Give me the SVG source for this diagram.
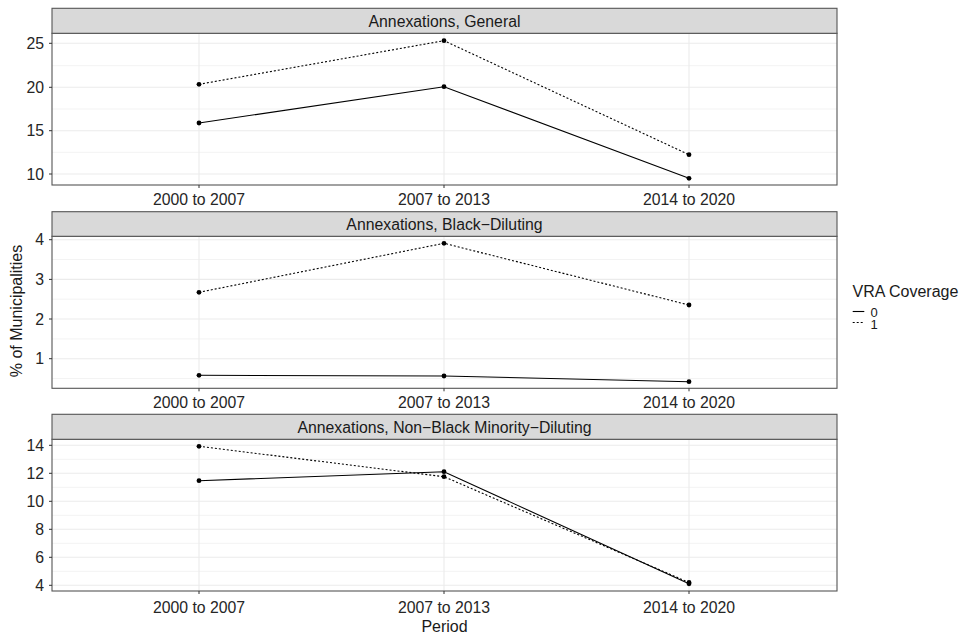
<svg xmlns="http://www.w3.org/2000/svg" width="961" height="634" viewBox="0 0 961 634">
<style>
text{font-family:"Liberation Sans",Arial,sans-serif;}
.bg{fill:#ffffff;}
.strip{fill:#d9d9d9;stroke:#555555;stroke-width:1.1;}
.panel{fill:none;stroke:#555555;stroke-width:1.1;}
.gmaj{stroke:#ebebeb;stroke-width:1.1;fill:none;}
.gmin{stroke:#f2f2f2;stroke-width:0.9;fill:none;}
.tick{stroke:#333333;stroke-width:1;}
.tl{font-size:13px;fill:#1a1a1a;}
.yl{font-size:15.8px;fill:#262626;text-anchor:end;}
.xl{font-size:15.8px;fill:#262626;text-anchor:middle;}
.st{font-size:15.8px;fill:#1a1a1a;text-anchor:middle;}
.title{font-size:16px;fill:#1a1a1a;}
.solid{stroke:#000;stroke-width:1.1;fill:none;}
.dot{stroke:#000;stroke-width:1.1;fill:none;stroke-dasharray:2,2;}
.pt{fill:#000;}
</style>
<rect class="bg" x="0" y="0" width="961" height="634"/>

<g id="panel-general">
  <rect class="bg" x="52" y="33.3" width="785" height="151.7"/>
  <g class="gmin">
    <line x1="52" y1="65.7" x2="837" y2="65.7"/>
    <line x1="52" y1="109" x2="837" y2="109"/>
    <line x1="52" y1="152.3" x2="837" y2="152.3"/>
  </g>
  <g class="gmaj">
    <line x1="52" y1="43.3" x2="837" y2="43.3"/>
    <line x1="52" y1="87.3" x2="837" y2="87.3"/>
    <line x1="52" y1="130.7" x2="837" y2="130.7"/>
    <line x1="52" y1="174" x2="837" y2="174"/>
    <line x1="199" y1="33.3" x2="199" y2="185"/>
    <line x1="444" y1="33.3" x2="444" y2="185"/>
    <line x1="689" y1="33.3" x2="689" y2="185"/>
  </g>
  <rect class="panel" x="52" y="33.3" width="785" height="151.7"/>
  <rect class="strip" x="52" y="8.3" width="785" height="25"/>
  <text class="st" x="444.5" y="26.8">Annexations, General</text>
  <g class="tick">
    <line x1="49" y1="43.3" x2="52" y2="43.3"/>
    <line x1="49" y1="87.3" x2="52" y2="87.3"/>
    <line x1="49" y1="130.7" x2="52" y2="130.7"/>
    <line x1="49" y1="174" x2="52" y2="174"/>
    <line x1="199" y1="185" x2="199" y2="188"/>
    <line x1="444" y1="185" x2="444" y2="188"/>
    <line x1="689" y1="185" x2="689" y2="188"/>
  </g>
  <text class="yl" x="44" y="48.8">25</text>
  <text class="yl" x="44" y="92.8">20</text>
  <text class="yl" x="44" y="136.2">15</text>
  <text class="yl" x="44" y="179.5">10</text>
  <text class="xl" x="199" y="205">2000 to 2007</text>
  <text class="xl" x="444" y="205">2007 to 2013</text>
  <text class="xl" x="689" y="205">2014 to 2020</text>
</g>

<g id="panel-black">
  <rect class="bg" x="52" y="236.3" width="785" height="152"/>
  <g class="gmin">
    <line x1="52" y1="259.5" x2="837" y2="259.5"/>
    <line x1="52" y1="299.2" x2="837" y2="299.2"/>
    <line x1="52" y1="338.9" x2="837" y2="338.9"/>
    <line x1="52" y1="378.5" x2="837" y2="378.5"/>
  </g>
  <g class="gmaj">
    <line x1="52" y1="239.7" x2="837" y2="239.7"/>
    <line x1="52" y1="279.4" x2="837" y2="279.4"/>
    <line x1="52" y1="319" x2="837" y2="319"/>
    <line x1="52" y1="358.7" x2="837" y2="358.7"/>
    <line x1="199" y1="236.3" x2="199" y2="388.3"/>
    <line x1="444" y1="236.3" x2="444" y2="388.3"/>
    <line x1="689" y1="236.3" x2="689" y2="388.3"/>
  </g>
  <rect class="panel" x="52" y="236.3" width="785" height="152"/>
  <rect class="strip" x="52" y="211.7" width="785" height="24.6"/>
  <text class="st" x="444.5" y="229.8">Annexations, Black−Diluting</text>
  <g class="tick">
    <line x1="49" y1="239.7" x2="52" y2="239.7"/>
    <line x1="49" y1="279.4" x2="52" y2="279.4"/>
    <line x1="49" y1="319" x2="52" y2="319"/>
    <line x1="49" y1="358.7" x2="52" y2="358.7"/>
    <line x1="199" y1="388.3" x2="199" y2="391.3"/>
    <line x1="444" y1="388.3" x2="444" y2="391.3"/>
    <line x1="689" y1="388.3" x2="689" y2="391.3"/>
  </g>
  <text class="yl" x="44" y="245.2">4</text>
  <text class="yl" x="44" y="284.9">3</text>
  <text class="yl" x="44" y="324.5">2</text>
  <text class="yl" x="44" y="364.2">1</text>
  <text class="xl" x="199" y="408">2000 to 2007</text>
  <text class="xl" x="444" y="408">2007 to 2013</text>
  <text class="xl" x="689" y="408">2014 to 2020</text>
</g>

<g id="panel-nonblack">
  <rect class="bg" x="52" y="439.3" width="785" height="151.7"/>
  <g class="gmin">
    <line x1="52" y1="459.3" x2="837" y2="459.3"/>
    <line x1="52" y1="487.3" x2="837" y2="487.3"/>
    <line x1="52" y1="515.3" x2="837" y2="515.3"/>
    <line x1="52" y1="543.3" x2="837" y2="543.3"/>
    <line x1="52" y1="571.3" x2="837" y2="571.3"/>
  </g>
  <g class="gmaj">
    <line x1="52" y1="445.3" x2="837" y2="445.3"/>
    <line x1="52" y1="473.3" x2="837" y2="473.3"/>
    <line x1="52" y1="501.3" x2="837" y2="501.3"/>
    <line x1="52" y1="529.3" x2="837" y2="529.3"/>
    <line x1="52" y1="557.3" x2="837" y2="557.3"/>
    <line x1="52" y1="585.3" x2="837" y2="585.3"/>
    <line x1="199" y1="439.3" x2="199" y2="591"/>
    <line x1="444" y1="439.3" x2="444" y2="591"/>
    <line x1="689" y1="439.3" x2="689" y2="591"/>
  </g>
  <rect class="panel" x="52" y="439.3" width="785" height="151.7"/>
  <rect class="strip" x="52" y="414.3" width="785" height="25"/>
  <text class="st" x="444.5" y="432.6">Annexations, Non−Black Minority−Diluting</text>
  <g class="tick">
    <line x1="49" y1="445.3" x2="52" y2="445.3"/>
    <line x1="49" y1="473.3" x2="52" y2="473.3"/>
    <line x1="49" y1="501.3" x2="52" y2="501.3"/>
    <line x1="49" y1="529.3" x2="52" y2="529.3"/>
    <line x1="49" y1="557.3" x2="52" y2="557.3"/>
    <line x1="49" y1="585.3" x2="52" y2="585.3"/>
    <line x1="199" y1="591" x2="199" y2="594"/>
    <line x1="444" y1="591" x2="444" y2="594"/>
    <line x1="689" y1="591" x2="689" y2="594"/>
  </g>
  <text class="yl" x="44" y="450.8">14</text>
  <text class="yl" x="44" y="478.8">12</text>
  <text class="yl" x="44" y="506.8">10</text>
  <text class="yl" x="44" y="534.8">8</text>
  <text class="yl" x="44" y="562.8">6</text>
  <text class="yl" x="44" y="590.8">4</text>
  <text class="xl" x="199" y="612.7">2000 to 2007</text>
  <text class="xl" x="444" y="612.7">2007 to 2013</text>
  <text class="xl" x="689" y="612.7">2014 to 2020</text>
</g>

<g id="connectors">
  <polyline class="dot" points="199,84.3 444,40.7 689,154.7"/>
  <polyline class="solid" points="199,123 444,86.7 689,178.3"/>
  <polyline class="dot" points="199,292.3 444,243.3 689,305"/>
  <polyline class="solid" points="199,375.3 444,376 689,381.7"/>
  <polyline class="dot" points="199,446.3 444,476.7 689,582.5"/>
  <polyline class="solid" points="199,480.7 444,471.7 689,583.8"/>
</g>

<g id="points">
  <circle class="pt" cx="199" cy="84.3" r="2.4"/>
  <circle class="pt" cx="444" cy="40.7" r="2.4"/>
  <circle class="pt" cx="689" cy="154.7" r="2.4"/>
  <circle class="pt" cx="199" cy="123" r="2.4"/>
  <circle class="pt" cx="444" cy="86.7" r="2.4"/>
  <circle class="pt" cx="689" cy="178.3" r="2.4"/>
  <circle class="pt" cx="199" cy="292.3" r="2.4"/>
  <circle class="pt" cx="444" cy="243.3" r="2.4"/>
  <circle class="pt" cx="689" cy="305" r="2.4"/>
  <circle class="pt" cx="199" cy="375.3" r="2.4"/>
  <circle class="pt" cx="444" cy="376" r="2.4"/>
  <circle class="pt" cx="689" cy="381.7" r="2.4"/>
  <circle class="pt" cx="199" cy="446.3" r="2.4"/>
  <circle class="pt" cx="444" cy="476.7" r="2.4"/>
  <circle class="pt" cx="689" cy="582.5" r="2.4"/>
  <circle class="pt" cx="199" cy="480.7" r="2.4"/>
  <circle class="pt" cx="444" cy="471.7" r="2.4"/>
  <circle class="pt" cx="689" cy="583.8" r="2.4"/>
</g>

<g id="axis-titles">
  <text class="title" x="444.5" y="631.5" text-anchor="middle">Period</text>
  <text class="title" transform="translate(21.5,311) rotate(-90)" text-anchor="middle">% of Municipalities</text>
</g>

<g id="legend">
  <text class="title" x="852.5" y="297" font-size="15.8">VRA Coverage</text>
  <line class="solid" x1="852.7" y1="311.5" x2="864.3" y2="311.5"/>
  <text class="tl" x="870.5" y="317">0</text>
  <line class="dot" x1="852.7" y1="322.5" x2="864.3" y2="322.5" stroke-width="0.8" stroke="#555"/>
  <text class="tl" x="870.5" y="328.5">1</text>
</g>
</svg>
